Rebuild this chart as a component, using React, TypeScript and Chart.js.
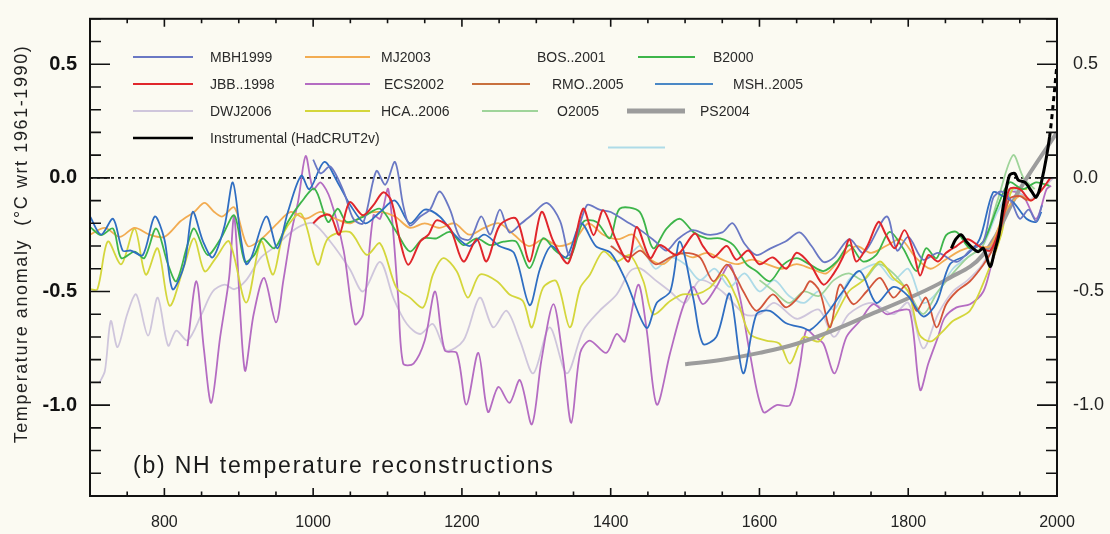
import React, { useEffect, useRef } from "react";
import { Chart, registerables } from "chart.js";
Chart.register(...registerables);

const FONT = '"Liberation Sans", Arial, Helvetica, sans-serif';

const X_MIN = 700;
const X_MAX = 2000;
const Y_MIN = -1.4;
const Y_MAX = 0.7;
const X_TICKS = [800, 1000, 1200, 1400, 1600, 1800, 2000];
const Y_TICKS = [0.5, 0.0, -0.5, -1.0];

const YEARS_MBH = [1000,1010,1023,1041,1054,1067,1085,1097,1110,1121,1130,1144,1157,1170,1184,1197,1211,1226,1238,1251,1264,1280,1295,1314,1332,1345,1368,1385,1400,1420,1440,1460,1475,1490,1510,1530,1550,1564,1580,1596,1615,1635,1654,1670,1686,1700,1721,1740,1771,1785,1800,1820,1840,1865,1883,1901,1914,1925,1938,1950,1962,1972,1980];
const VALS_MBH = [0.08,0.02,0.05,-0.06,-0.18,-0.2,0.03,-0.03,0.07,-0.12,-0.21,-0.17,-0.14,-0.06,-0.14,-0.26,-0.27,-0.17,-0.25,-0.14,-0.24,-0.2,-0.16,-0.11,-0.19,-0.34,-0.12,-0.14,-0.15,-0.19,-0.23,-0.28,-0.32,-0.27,-0.23,-0.25,-0.24,-0.2,-0.29,-0.34,-0.31,-0.28,-0.24,-0.3,-0.37,-0.35,-0.27,-0.33,-0.17,-0.32,-0.26,-0.36,-0.33,-0.37,-0.32,-0.28,-0.09,-0.06,-0.1,-0.18,-0.14,-0.19,-0.12];

const YEARS_MJ = [700,720,740,760,780,800,822,840,854,867,878,894,912,930,952,970,990,1010,1030,1050,1070,1090,1110,1130,1150,1170,1190,1210,1230,1250,1270,1290,1310,1330,1350,1370,1390,1410,1430,1450,1470,1490,1510,1530,1550,1570,1590,1610,1630,1650,1670,1690,1710,1730,1750,1770,1790,1810,1830,1850,1870,1890,1910,1930,1950,1965,1980];
const VALS_MJ = [-0.25,-0.22,-0.26,-0.22,-0.25,-0.26,-0.19,-0.15,-0.11,-0.15,-0.17,-0.13,-0.3,-0.27,-0.2,-0.15,-0.18,-0.15,-0.18,-0.2,-0.16,-0.15,-0.17,-0.22,-0.2,-0.22,-0.2,-0.25,-0.22,-0.2,-0.25,-0.3,-0.27,-0.3,-0.28,-0.2,-0.25,-0.27,-0.25,-0.35,-0.38,-0.33,-0.35,-0.33,-0.36,-0.38,-0.36,-0.38,-0.4,-0.38,-0.4,-0.42,-0.35,-0.3,-0.33,-0.3,-0.27,-0.35,-0.4,-0.36,-0.32,-0.3,-0.3,-0.15,-0.08,-0.1,-0.05];

const YEARS_BOS = [1402,1420,1440,1460,1480,1500,1520,1540,1560,1580,1600,1620,1640,1660,1680,1700,1720,1740,1760,1780,1800,1820,1840,1860,1880,1900,1920,1940,1960];
const VALS_BOS = [-0.3,-0.35,-0.3,-0.4,-0.35,-0.38,-0.45,-0.4,-0.48,-0.42,-0.5,-0.45,-0.52,-0.55,-0.5,-0.58,-0.45,-0.4,-0.38,-0.45,-0.4,-0.55,-0.5,-0.4,-0.35,-0.3,-0.15,-0.05,-0.1];

const YEARS_B2000 = [700,715,731,742,760,773,789,805,816,831,840,858,876,894,908,921,932,948,966,984,1002,1020,1033,1045,1067,1090,1112,1130,1148,1166,1184,1202,1220,1238,1256,1273,1291,1309,1327,1345,1363,1381,1399,1412,1439,1457,1475,1493,1511,1529,1547,1565,1583,1596,1614,1632,1650,1668,1686,1704,1721,1739,1757,1775,1793,1811,1824,1838,1851,1865,1883,1901,1919,1936,1954,1972,1990];
const VALS_B2000 = [-0.216,-0.252,-0.223,-0.353,-0.325,-0.353,-0.223,-0.382,-0.455,-0.296,-0.223,-0.339,-0.266,-0.165,-0.368,-0.339,-0.266,-0.31,-0.194,-0.107,-0.049,-0.194,-0.136,-0.194,-0.172,-0.136,-0.238,-0.324,-0.266,-0.266,-0.238,-0.296,-0.266,-0.296,-0.281,-0.281,-0.397,-0.266,-0.324,-0.353,-0.194,-0.194,-0.266,-0.136,-0.15,-0.31,-0.223,-0.18,-0.238,-0.266,-0.266,-0.296,-0.382,-0.411,-0.455,-0.382,-0.353,-0.382,-0.41,-0.368,-0.296,-0.368,-0.339,-0.238,-0.31,-0.41,-0.31,-0.354,-0.252,-0.238,-0.31,-0.28,-0.136,-0.02,-0.05,-0.02,-0.035];

const YEARS_JBB = [1000,1010,1023,1035,1049,1067,1081,1094,1105,1117,1128,1144,1155,1166,1184,1202,1220,1233,1251,1273,1291,1307,1323,1343,1363,1377,1390,1408,1424,1435,1453,1466,1489,1513,1524,1538,1556,1569,1585,1600,1618,1636,1650,1668,1686,1700,1712,1721,1730,1745,1760,1770,1782,1795,1807,1816,1827,1840,1851,1865,1880,1895,1910,1925,1936,1950,1965,1980,1991];
const VALS_JBB = [-0.2,-0.17,-0.165,-0.25,-0.107,-0.165,-0.12,-0.064,-0.1,-0.28,-0.382,-0.28,-0.25,-0.187,-0.223,-0.368,-0.27,-0.368,-0.208,-0.18,-0.368,-0.15,-0.28,-0.375,-0.136,-0.252,-0.143,-0.28,-0.368,-0.216,-0.353,-0.296,-0.339,-0.245,-0.3,-0.35,-0.3,-0.36,-0.32,-0.38,-0.35,-0.4,-0.33,-0.38,-0.47,-0.42,-0.35,-0.27,-0.368,-0.3,-0.194,-0.25,-0.31,-0.23,-0.325,-0.43,-0.34,-0.368,-0.33,-0.3,-0.27,-0.3,-0.32,-0.2,-0.05,-0.05,-0.1,-0.05,0.0];

const YEARS_ECS = [831,843,853,863,875,887,894,908,920,934,950,960,970,980,990,1000,1010,1023,1041,1056,1067,1081,1090,1101,1114,1121,1135,1150,1164,1177,1193,1206,1222,1235,1249,1264,1278,1294,1307,1323,1336,1347,1359,1372,1394,1408,1419,1437,1448,1462,1480,1497,1511,1524,1542,1560,1574,1587,1605,1623,1641,1654,1663,1675,1686,1701,1717,1735,1753,1771,1786,1802,1816,1827,1840,1849,1865,1883,1901,1912,1925,1936,1954,1972,1986,1992];
const VALS_ECS = [-0.74,-0.455,-0.75,-0.99,-0.7,-0.44,-0.17,-0.846,-0.6,-0.44,-0.636,-0.45,-0.25,-0.1,0.096,-0.05,-0.02,-0.093,-0.32,-0.643,-0.6,-0.165,-0.18,-0.05,-0.513,-0.817,-0.817,-0.716,-0.5,-0.76,-0.77,-0.998,-0.77,-1.03,-0.92,-0.99,-0.89,-1.085,-0.8,-0.556,-0.8,-1.078,-0.77,-0.716,-0.77,-0.687,-0.72,-0.47,-0.66,-0.998,-0.77,-0.57,-0.48,-0.556,-0.48,-0.382,-0.53,-0.77,-1.03,-1.0,-1.0,-0.83,-0.67,-0.7,-0.73,-0.86,-0.7,-0.63,-0.556,-0.6,-0.585,-0.585,-0.933,-0.817,-0.7,-0.615,-0.57,-0.556,-0.5,-0.38,-0.24,-0.064,-0.078,-0.18,-0.05,-0.035];

const YEARS_RMO = [1400,1424,1440,1460,1480,1500,1520,1538,1556,1569,1578,1596,1618,1636,1659,1668,1681,1695,1708,1726,1744,1762,1780,1798,1811,1824,1838,1851,1865,1883,1901,1912,1923,1936,1950,1960];
const VALS_RMO = [-0.3,-0.35,-0.32,-0.38,-0.35,-0.33,-0.35,-0.455,-0.382,-0.44,-0.498,-0.585,-0.513,-0.57,-0.5,-0.455,-0.5,-0.658,-0.47,-0.556,-0.5,-0.44,-0.527,-0.47,-0.585,-0.527,-0.658,-0.556,-0.5,-0.455,-0.382,-0.324,-0.238,-0.093,-0.08,-0.1];

const YEARS_MSH = [700,715,731,744,755,771,787,800,811,827,838,852,865,881,892,903,910,917,937,952,966,984,995,1015,1033,1050,1070,1090,1110,1130,1150,1170,1190,1210,1230,1250,1270,1291,1305,1320,1340,1360,1380,1400,1420,1448,1462,1480,1493,1511,1524,1542,1560,1578,1596,1614,1636,1659,1668,1690,1712,1735,1757,1780,1800,1820,1838,1856,1878,1896,1914,1927,1941,1959,1972,1979];
const VALS_MSH = [-0.17,-0.25,-0.18,-0.32,-0.32,-0.34,-0.17,-0.27,-0.49,-0.38,-0.15,-0.28,-0.35,-0.21,-0.02,-0.27,-0.38,-0.35,-0.17,-0.31,-0.15,0.01,-0.05,0.07,-0.02,-0.12,-0.2,-0.15,-0.1,-0.2,-0.14,-0.17,-0.25,-0.3,-0.25,-0.3,-0.33,-0.56,-0.4,-0.3,-0.35,-0.2,-0.3,-0.33,-0.45,-0.66,-0.55,-0.5,-0.28,-0.53,-0.73,-0.7,-0.51,-0.86,-0.6,-0.585,-0.64,-0.66,-0.67,-0.6,-0.5,-0.41,-0.55,-0.48,-0.52,-0.61,-0.55,-0.38,-0.34,-0.27,-0.064,-0.08,-0.107,-0.18,-0.194,-0.15];

const YEARS_DWJ = [713,720,728,737,750,762,778,791,805,816,831,850,865,881,894,910,930,950,966,984,1000,1023,1049,1067,1090,1108,1126,1144,1161,1179,1202,1224,1242,1260,1278,1296,1318,1341,1363,1385,1408,1426,1439,1460,1480,1500,1520,1550,1580,1600,1620,1650,1680,1700,1720,1750,1780,1800,1820,1840,1860,1880,1900,1920,1940,1960,1980,1995];
const VALS_DWJ = [-0.9,-0.85,-0.63,-0.745,-0.6,-0.513,-0.694,-0.527,-0.738,-0.672,-0.716,-0.6,-0.5,-0.47,-0.49,-0.45,-0.35,-0.3,-0.25,-0.21,-0.2,-0.28,-0.4,-0.5,-0.37,-0.53,-0.643,-0.687,-0.643,-0.76,-0.716,-0.527,-0.658,-0.585,-0.716,-0.86,-0.658,-0.86,-0.672,-0.585,-0.513,-0.411,-0.397,-0.45,-0.5,-0.55,-0.45,-0.5,-0.6,-0.6,-0.55,-0.62,-0.58,-0.7,-0.6,-0.55,-0.6,-0.55,-0.75,-0.6,-0.5,-0.45,-0.38,-0.25,-0.05,-0.1,-0.05,0.0];

const YEARS_HCA = [700,710,724,742,760,775,791,807,827,840,854,869,887,910,930,946,961,984,1006,1020,1049,1072,1090,1112,1130,1148,1161,1175,1193,1208,1224,1247,1264,1282,1294,1309,1327,1345,1359,1372,1390,1408,1426,1444,1457,1480,1497,1515,1533,1551,1569,1587,1609,1627,1641,1659,1680,1700,1720,1740,1762,1780,1800,1815,1830,1845,1860,1883,1905,1925,1940,1960];
const VALS_HCA = [-0.49,-0.49,-0.28,-0.38,-0.223,-0.426,-0.31,-0.563,-0.382,-0.266,-0.411,-0.353,-0.28,-0.549,-0.28,-0.426,-0.238,-0.158,-0.382,-0.266,-0.238,-0.339,-0.288,-0.484,-0.527,-0.57,-0.426,-0.353,-0.411,-0.527,-0.426,-0.455,-0.513,-0.542,-0.658,-0.484,-0.455,-0.658,-0.484,-0.426,-0.324,-0.368,-0.34,-0.455,-0.6,-0.542,-0.513,-0.513,-0.484,-0.426,-0.527,-0.687,-0.716,-0.73,-0.817,-0.7,-0.72,-0.62,-0.5,-0.45,-0.368,-0.44,-0.5,-0.69,-0.72,-0.68,-0.63,-0.585,-0.43,-0.25,-0.05,-0.05];

const YEARS_O2005 = [1600,1620,1640,1660,1680,1700,1720,1740,1760,1780,1800,1820,1840,1860,1880,1900,1920,1941,1955,1970];
const VALS_O2005 = [-0.45,-0.5,-0.55,-0.5,-0.52,-0.45,-0.42,-0.45,-0.38,-0.42,-0.5,-0.6,-0.5,-0.42,-0.35,-0.3,-0.1,0.1,0.0,-0.05];

const YEARS_PS = [1500,1550,1600,1650,1700,1750,1800,1850,1900,1950,2000];
const VALS_PS = [-0.82,-0.8,-0.77,-0.73,-0.67,-0.6,-0.53,-0.45,-0.34,-0.05,0.2];

const YEARS_INSTR = [1858,1864,1871,1878,1887,1894,1901,1910,1916,1922,1928,1936,1943,1948,1957,1966,1972,1979,1990,2000];
const VALS_INSTR = [-0.31,-0.27,-0.25,-0.28,-0.31,-0.325,-0.31,-0.39,-0.325,-0.25,-0.12,0.01,0.02,-0.01,-0.02,-0.06,-0.085,-0.02,0.18,0.5];

const SERIES = [
  { label: "Instrumental (HadCRUT2v)", years: YEARS_INSTR, values: VALS_INSTR, color: "#000000", width: 3 },
  { label: "JBB..1998", years: YEARS_JBB, values: VALS_JBB, color: "#e0262c", width: 2 },
  { label: "MBH1999", years: YEARS_MBH, values: VALS_MBH, color: "#6a78c4", width: 1.8 },
  { label: "MSH..2005", years: YEARS_MSH, values: VALS_MSH, color: "#2f6ec2", width: 1.8 },
  { label: "B2000", years: YEARS_B2000, values: VALS_B2000, color: "#3db54a", width: 1.8 },
  { label: "RMO..2005", years: YEARS_RMO, values: VALS_RMO, color: "#d2553a", width: 1.8 },
  { label: "MJ2003", years: YEARS_MJ, values: VALS_MJ, color: "#f2ac52", width: 1.8 },
  { label: "PS2004", years: YEARS_PS, values: VALS_PS, color: "#9c9c9c", width: 4 },
  { label: "HCA..2006", years: YEARS_HCA, values: VALS_HCA, color: "#d4d63c", width: 1.8 },
  { label: "O2005", years: YEARS_O2005, values: VALS_O2005, color: "#9fd49a", width: 1.8 },
  { label: "BOS..2001", years: YEARS_BOS, values: VALS_BOS, color: "#aedbe8", width: 1.8 },
  { label: "ECS2002", years: YEARS_ECS, values: VALS_ECS, color: "#b46cc2", width: 1.8 },
  { label: "DWJ2006", years: YEARS_DWJ, values: VALS_DWJ, color: "#cfc6dc", width: 1.8 },
];

// legend layout (styling only)
const LEGEND = [
  { text: "MBH1999", color: "#6a78c4", row: 0, x1: 133, x2: 193, tx: 210, w: 2 },
  { text: "MJ2003", color: "#f2ac52", row: 0, x1: 305, x2: 370, tx: 381, w: 2 },
  { text: "BOS..2001", color: null, row: 0, x1: 0, x2: 0, tx: 537, w: 2 },
  { text: "B2000", color: "#3db54a", row: 0, x1: 638, x2: 695, tx: 713, w: 2 },
  { text: "JBB..1998", color: "#e0262c", row: 1, x1: 133, x2: 193, tx: 210, w: 2 },
  { text: "ECS2002", color: "#b46cc2", row: 1, x1: 305, x2: 370, tx: 384, w: 2 },
  { text: "RMO..2005", color: "#c8703e", row: 1, x1: 472, x2: 530, tx: 552, w: 2 },
  { text: "MSH..2005", color: "#4a88c6", row: 1, x1: 655, x2: 713, tx: 733, w: 2 },
  { text: "DWJ2006", color: "#cfc6dc", row: 2, x1: 133, x2: 193, tx: 210, w: 2 },
  { text: "HCA..2006", color: "#d4d63c", row: 2, x1: 305, x2: 370, tx: 381, w: 2 },
  { text: "O2005", color: "#9fd49a", row: 2, x1: 482, x2: 538, tx: 557, w: 2 },
  { text: "PS2004", color: "#9c9c9c", row: 2, x1: 627, x2: 685, tx: 700, w: 5 },
  { text: "Instrumental (HadCRUT2v)", color: "#000000", row: 3, x1: 133, x2: 193, tx: 210, w: 2.5 },
  { text: "", color: "#aedbe8", row: 3.35, x1: 608, x2: 665, tx: 0, w: 2 },
];
const LEGEND_ROWS_Y = 57;
const LEGEND_ROW_STEP = 27;

const framePlugin = {
  id: "frame",
  beforeDatasetsDraw(chart: any) {
    const { ctx, chartArea: a } = chart;
    const ys = chart.scales.y;
    const y0 = ys.getPixelForValue(0);
    ctx.save();
    ctx.strokeStyle = "#111";
    ctx.lineWidth = 1.8;
    ctx.setLineDash([3, 4]);
    ctx.beginPath();
    ctx.moveTo(a.left, y0);
    ctx.lineTo(a.right, y0);
    ctx.stroke();
    ctx.restore();
  },
  afterDraw(chart: any) {
    const { ctx, chartArea: a } = chart;
    const xs = chart.scales.x;
    const ys = chart.scales.y;
    ctx.save();
    ctx.strokeStyle = "#111";
    ctx.lineWidth = 1.6;
    ctx.setLineDash([]);
    ctx.beginPath();
    for (let yr = X_MIN + 50; yr < X_MAX; yr += 50) {
      const px = xs.getPixelForValue(yr);
      const len = yr % 200 === 0 ? 8 : 4.5;
      ctx.moveTo(px, a.bottom);
      ctx.lineTo(px, a.bottom - len);
      ctx.moveTo(px, a.top);
      ctx.lineTo(px, a.top + len);
    }
    for (let i = -14; i <= 7; i++) {
      const py = ys.getPixelForValue(i / 10);
      const len = i % 5 === 0 ? 20 : 11;
      ctx.moveTo(a.left, py);
      ctx.lineTo(a.left + len, py);
      ctx.moveTo(a.right, py);
      ctx.lineTo(a.right - len, py);
    }
    ctx.stroke();
    ctx.lineWidth = 2;
    ctx.strokeRect(a.left, a.top, a.right - a.left, a.bottom - a.top);

    // legend
    ctx.font = `14px ${FONT}`;
    ctx.textBaseline = "middle";
    ctx.textAlign = "left";
    for (const e of LEGEND) {
      const y = LEGEND_ROWS_Y + e.row * LEGEND_ROW_STEP;
      if (e.color) {
        ctx.strokeStyle = e.color;
        ctx.lineWidth = e.w;
        ctx.beginPath();
        ctx.moveTo(e.x1, y);
        ctx.lineTo(e.x2, y);
        ctx.stroke();
      }
      if (e.text) {
        ctx.fillStyle = "#2a2a2a";
        ctx.fillText(e.text, e.tx, y + 1);
      }
    }

    // panel label
    ctx.fillStyle = "#1a1a1a";
    ctx.font = `23px ${FONT}`;
    (ctx as any).letterSpacing = "1.8px";
    ctx.fillText("(b) NH temperature reconstructions", a.left + 43, a.bottom - 29);

    // y title
    ctx.translate(22, 244);
    ctx.rotate(-Math.PI / 2);
    ctx.textAlign = "center";
    ctx.font = `18px ${FONT}`;
    (ctx as any).letterSpacing = "1.6px";
    ctx.fillStyle = "#222";
    ctx.fillText("Temperature anomaly  (\u00B0C wrt 1961-1990)", 0, 0);
    (ctx as any).letterSpacing = "0px";
    ctx.restore();
  },
};

export default function App() {
  const ref = useRef<HTMLCanvasElement | null>(null);
  useEffect(() => {
    if (!ref.current) return;
    const datasets = SERIES.map((s) => {
      const last = s.years.length - 1;
      return {
        label: s.label,
        data: s.years.map((yr, i) => ({ x: yr, y: s.values[i] })),
        borderColor: s.color,
        backgroundColor: s.color,
        borderWidth: s.width,
        pointRadius: 0,
        fill: false,
        tension: s.label === "PS2004" ? 0.4 : 0.3,
        segment: s.label.startsWith("Instrumental")
          ? { borderDash: (c: any) => (c.p1DataIndex === last ? [5, 4] : undefined) }
          : undefined,
      };
    });
    const setTicks = (vals: number[]) => (s: any) => {
      s.ticks = vals.map((value) => ({ value }));
    };
    const chart = new Chart(ref.current, {
      type: "line",
      data: { datasets },
      plugins: [framePlugin],
      options: {
        responsive: false,
        maintainAspectRatio: false,
        animation: false,
        layout: { padding: { top: 11, left: 0, right: 0, bottom: 0 } },
        plugins: { legend: { display: false }, tooltip: { enabled: false } },
        scales: {
          x: {
            type: "linear",
            min: X_MIN,
            max: X_MAX,
            afterBuildTicks: setTicks(X_TICKS),
            afterFit: (s: any) => { s.height = 38; },
            grid: { display: false },
            border: { display: false },
            ticks: {
              autoSkip: false,
              maxRotation: 0,
              padding: 9,
              color: "#222",
              font: { size: 16, family: FONT },
              callback: (v: any) => String(v),
            },
          },
          y: {
            type: "linear",
            position: "left",
            min: Y_MIN,
            max: Y_MAX,
            afterBuildTicks: setTicks(Y_TICKS),
            afterFit: (s: any) => { s.width = 90; },
            grid: { display: false },
            border: { display: false },
            ticks: {
              padding: 5,
              color: "#111",
              font: { size: 20, weight: "bold", family: FONT },
              callback: (v: any) => Number(v).toFixed(1),
            },
          },
          y2: {
            type: "linear",
            position: "right",
            min: Y_MIN,
            max: Y_MAX,
            afterBuildTicks: setTicks(Y_TICKS),
            afterFit: (s: any) => { s.width = 53; },
            grid: { display: false },
            border: { display: false },
            ticks: {
              padding: 8,
              color: "#222",
              font: { size: 18, family: FONT },
              callback: (v: any) => Number(v).toFixed(1),
            },
          },
        },
      } as any,
    });
    return () => chart.destroy();
  }, []);
  return (
    <div style={{ position: "fixed", left: 0, top: 0, width: 1110, height: 534, background: "#fbfaf2" }}>
      <canvas ref={ref} width={1110} height={534} style={{ display: "block" }} />
    </div>
  );
}
